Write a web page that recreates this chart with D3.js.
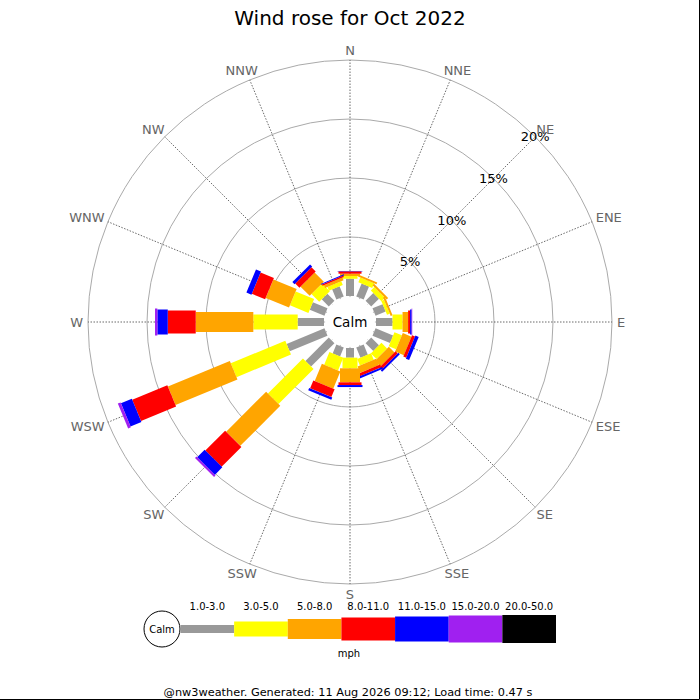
<!DOCTYPE html>
<html>
<head>
<meta charset="utf-8">
<script src="https://cdn.jsdelivr.net/npm/d3@7"></script>
<style>
  body { margin: 0; background: #fff; }
  text { font-family: "DejaVu Sans", sans-serif; }
</style>
</head>
<body>
<div id="rose-container"></div>
<script>
// Wind rose for Oct 2022 (percent of time per direction and speed band)

const directions = ["N", "NNE", "NE", "ENE", "E", "ESE", "SE", "SSE",
                    "S", "SSW", "SW", "WSW", "W", "WNW", "NW", "NNW"];
const speedBands = ["1.0-3.0", "3.0-5.0", "5.0-8.0", "8.0-11.0", "11.0-15.0", "15.0-20.0", "20.0-50.0"];
const ringTicks = [5, 10, 15, 20];

// % of observations, one value per direction (N .. NNW)
const speed1to3   = [1.46, 1.19, 0.93, 0.93, 1.40, 1.61, 0.93, 0.93, 0.82, 0.82, 2.80, 3.47, 2.23, 1.35, 0.85, 0.93];
const speed3to5   = [0.23, 0.42, 0.42, 0.25, 0.85, 0.68, 0.68, 0.59, 0.90, 1.16, 4.20, 5.00, 3.76, 1.69, 0.93, 0.34];
const speed5to8   = [0.20, 0.17, 0.17, 0.17, 0.47, 0.80, 0.68, 0.59, 1.19, 1.58, 4.79, 5.68, 4.88, 2.14, 1.10, 0.25];
const speed8to11  = [0.20, 0.00, 0.00, 0.00, 0.17, 0.27, 0.25, 0.25, 0.23, 0.72, 2.37, 3.22, 2.37, 1.22, 0.51, 0.13];
const speed11to15 = [0.03, 0.00, 0.00, 0.00, 0.13, 0.30, 0.17, 0.17, 0.17, 0.21, 0.90, 1.00, 0.88, 0.46, 0.25, 0.08];
const speed15to20 = [0.00, 0.00, 0.00, 0.00, 0.05, 0.00, 0.00, 0.00, 0.00, 0.00, 0.17, 0.25, 0.20, 0.00, 0.00, 0.00];
const speed20to50 = [0, 0, 0, 0, 0, 0, 0, 0, 0, 0, 0, 0, 0, 0, 0, 0];

const series = [speed1to3, speed3to5, speed5to8, speed8to11, speed11to15, speed15to20, speed20to50];

// Band styling
const bandColors = ["#999999", "#ffff00", "#ffa500", "#ff0000", "#0000ff", "#a020f0", "#000000"];
const bandWidths = [8, 15, 20, 23, 25, 27, 28];

const width = 700;
const height = 700;
const cx = 350;
const cy = 322;
const calmRadius = 25;
const labelRadius = 267;

const svg = d3.select("#rose-container")
  .append("svg")
  .attr("width", width)
  .attr("height", height)
  .attr("viewBox", [0, 0, width, height]);

// Radial scale: 0% sits at the edge of the calm circle
const r = d3.scaleLinear()
  .domain([0, 20])
  .range([26, 262]);

const angle = d3.scalePoint()
  .domain(directions)
  .range([0, 360 - 360 / directions.length]);

const rad = deg => (deg - 90) * Math.PI / 180;

// Title
svg.append("text")
  .attr("x", cx)
  .attr("y", 25)
  .attr("text-anchor", "middle")
  .attr("font-size", "20px")
  .attr("fill", "#000")
  .text("Wind rose for Oct 2022");

// Rings
svg.append("g")
  .selectAll("circle")
  .data(ringTicks)
  .join("circle")
  .attr("cx", cx)
  .attr("cy", cy)
  .attr("r", d => r(d))
  .attr("fill", "none")
  .attr("stroke", "#aaa")
  .attr("stroke-width", 1);

// Spokes
svg.append("g")
  .selectAll("line")
  .data(directions)
  .join("line")
  .attr("x1", cx)
  .attr("y1", cy)
  .attr("x2", d => cx + r(20) * Math.cos(rad(angle(d))))
  .attr("y2", d => cy + r(20) * Math.sin(rad(angle(d))))
  .attr("stroke", "#444")
  .attr("stroke-width", 0.8)
  .attr("stroke-dasharray", "1.5,1.5");

// Stack the bands per direction
const stacked = [];
directions.forEach((dir, i) => {
  let start = 0;
  series.forEach((values, b) => {
    const v = values[i];
    if (v > 0) {
      stacked.push({ dir: dir, band: b, from: start, to: start + v });
    }
    start += v;
  });
});

// Bars
svg.append("g")
  .selectAll("rect")
  .data(stacked)
  .join("rect")
  .attr("transform", d => `translate(${cx},${cy}) rotate(${angle(d.dir)})`)
  .attr("x", d => -bandWidths[d.band] / 2)
  .attr("y", d => -r(d.to))
  .attr("width", d => bandWidths[d.band])
  .attr("height", d => r(d.to) - r(d.from))
  .attr("fill", d => bandColors[d.band]);

// Calm circle
svg.append("circle")
  .attr("cx", cx)
  .attr("cy", cy)
  .attr("r", calmRadius)
  .attr("fill", "#fff");

svg.append("text")
  .attr("x", cx)
  .attr("y", cy)
  .attr("text-anchor", "middle")
  .attr("dominant-baseline", "central")
  .attr("font-size", "13.5px")
  .attr("fill", "#000")
  .text("Calm");

// Ring labels along the NE spoke
svg.append("g")
  .selectAll("text")
  .data(ringTicks)
  .join("text")
  .attr("x", d => cx + r(d) * Math.cos(rad(45)))
  .attr("y", d => cy + r(d) * Math.sin(rad(45)))
  .attr("text-anchor", "middle")
  .attr("dominant-baseline", "central")
  .attr("font-size", "13px")
  .attr("fill", "#000")
  .text(d => d + "%");

// Direction labels, pushed outwards by half their size along the spoke
svg.append("g")
  .selectAll("text")
  .data(directions)
  .join("text")
  .attr("text-anchor", "middle")
  .attr("dominant-baseline", "central")
  .attr("font-size", "13px")
  .attr("fill", "#666")
  .text(d => d)
  .each(function(d) {
    const a = angle(d) * Math.PI / 180;
    const halfW = this.getComputedTextLength() / 2;
    const halfH = 5;
    d3.select(this)
      .attr("x", cx + labelRadius * Math.sin(a) + Math.sin(a) * halfW)
      .attr("y", cy - labelRadius * Math.cos(a) - Math.cos(a) * halfH);
  });

// Legend
const legendX = d3.scaleBand()
  .domain(speedBands)
  .range([180.5, 556]);

const legendY = 629;
const legend = svg.append("g");

legend.append("circle")
  .attr("cx", 162)
  .attr("cy", legendY)
  .attr("r", 18)
  .attr("fill", "#fff")
  .attr("stroke", "#000")
  .attr("stroke-width", 1);

legend.append("text")
  .attr("x", 162)
  .attr("y", legendY)
  .attr("text-anchor", "middle")
  .attr("dominant-baseline", "central")
  .attr("font-size", "10px")
  .attr("fill", "#000")
  .text("Calm");

legend.selectAll("rect")
  .data(speedBands)
  .join("rect")
  .attr("x", d => legendX(d))
  .attr("y", (d, i) => legendY - bandWidths[i] / 2)
  .attr("width", legendX.bandwidth())
  .attr("height", (d, i) => bandWidths[i])
  .attr("fill", (d, i) => bandColors[i]);

legend.selectAll("text.band")
  .data(speedBands)
  .join("text")
  .attr("class", "band")
  .attr("x", d => legendX(d) + legendX.bandwidth() / 2)
  .attr("y", 610)
  .attr("text-anchor", "middle")
  .attr("font-size", "10px")
  .attr("fill", "#000")
  .text(d => d);

legend.append("text")
  .attr("x", 349)
  .attr("y", 657)
  .attr("text-anchor", "middle")
  .attr("font-size", "10px")
  .attr("fill", "#000")
  .text("mph");

// Footer
svg.append("text")
  .attr("x", 348)
  .attr("y", 696)
  .attr("text-anchor", "middle")
  .attr("font-size", "11.3px")
  .attr("fill", "#000")
  .text("@nw3weather. Generated: 11 Aug 2026 09:12; Load time: 0.47 s");

// Frame edges (right and bottom)
svg.append("path")
  .attr("d", "M699.5,0V699.5H0")
  .attr("fill", "none")
  .attr("stroke", "#000")
  .attr("stroke-width", 1);
</script>
</body>
</html>
